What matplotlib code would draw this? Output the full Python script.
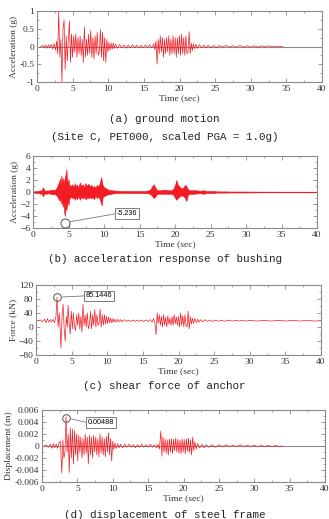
import numpy as np
import matplotlib
matplotlib.use("Agg")
import matplotlib.pyplot as plt
from matplotlib.ticker import AutoMinorLocator, MultipleLocator

# ---------------- data ----------------
# (a) ground motion: (time s, acceleration g)
ground_a = [
    (0.5, 0.0), (0.8, 0.03), (1.0, -0.03), (1.2, 0.04), (1.4, -0.05), (1.6, 0.05), (1.8, -0.04),
    (2.0, 0.06), (2.2, -0.07), (2.4, 0.08), (2.6, -0.1), (2.75, 0.15), (2.9, -0.2), (3.05, 1.0),
    (3.2, -0.3), (3.35, 0.2), (3.5, -1.0), (3.65, 0.5), (3.8, 0.75), (3.95, -0.65), (4.1, 0.3),
    (4.25, -0.4), (4.4, 0.2), (4.55, 0.72), (4.7, -0.45), (4.85, 0.35), (5.0, -0.3), (5.15, 0.3),
    (5.3, -0.15), (5.45, 0.35), (5.6, -0.3), (5.75, 0.25), (5.9, -0.2), (6.05, 0.3), (6.2, -0.25),
    (6.35, 0.2), (6.5, -0.45), (6.65, 0.55), (6.8, -0.3), (6.95, 0.2), (7.1, -0.25), (7.25, 0.35),
    (7.4, -0.2), (7.55, 0.45), (7.7, -0.3), (7.85, 0.25), (8.0, -0.35), (8.15, 0.3), (8.3, -0.2),
    (8.45, 0.4), (8.6, -0.25), (8.75, -0.15), (8.9, 0.48), (9.05, -0.3), (9.2, 0.4), (9.35, -0.4),
    (9.5, 0.25), (9.65, -0.45), (9.8, 0.2), (9.95, -0.15), (10.1, 0.12), (10.25, -0.1),
    (10.4, 0.1), (10.55, -0.08), (10.7, 0.1), (10.85, -0.06), (11.0, 0.07), (11.3, -0.05),
    (11.6, 0.06), (11.9, -0.04), (12.2, 0.05), (12.5, -0.05), (12.8, 0.04), (13.1, -0.04),
    (13.4, 0.05), (13.7, -0.03), (14.0, 0.04), (14.3, -0.04), (14.6, 0.03), (14.9, -0.03),
    (15.2, 0.04), (15.5, -0.03), (15.8, 0.05), (16.1, -0.04), (16.4, 0.08), (16.55, -0.1),
    (16.7, 0.15), (16.85, -0.5), (17.0, 0.2), (17.15, -0.2), (17.3, 0.3), (17.45, -0.15),
    (17.6, 0.25), (17.75, -0.3), (17.9, 0.2), (18.05, -0.2), (18.2, 0.25), (18.35, -0.15),
    (18.5, 0.3), (18.65, -0.25), (18.8, 0.2), (18.95, -0.2), (19.1, 0.3), (19.25, -0.2),
    (19.4, 0.25), (19.55, -0.3), (19.7, 0.25), (19.85, -0.2), (20.0, 0.3), (20.15, -0.25),
    (20.3, 0.35), (20.45, -0.2), (20.6, 0.25), (20.75, -0.25), (20.9, 0.3), (21.05, -0.2),
    (21.2, -0.15), (21.35, 0.42), (21.5, -0.2), (21.65, 0.1), (21.8, -0.12), (21.95, 0.08),
    (22.1, -0.06), (22.3, 0.06), (22.5, -0.05), (22.8, 0.05), (23.1, -0.04), (23.4, 0.04),
    (23.7, -0.04), (24.0, 0.03), (24.4, -0.03), (24.8, 0.03), (25.2, -0.03), (25.6, 0.03),
    (26.0, -0.02), (26.5, 0.03), (27.0, -0.02), (27.5, 0.02), (28.0, -0.02), (28.5, 0.03),
    (29.0, -0.02), (29.5, 0.02), (30.0, -0.02), (30.5, 0.02), (31.0, -0.02), (31.5, 0.02),
    (32.0, -0.01), (32.5, 0.02), (33.0, -0.01), (33.5, 0.01), (34.0, -0.01), (34.5, 0.0),
]

# (b) acceleration response of bushing: (time s, upper envelope g, lower envelope g)
bushing_b = [
    (0.0, 0.05, -0.05), (0.5, 0.2, -0.2), (0.8, 0.15, -0.15), (1.0, 0.3, -0.3), (1.2, 0.25, -0.25),
    (1.4, 0.8, -0.7), (1.6, 0.3, -0.3), (1.8, 0.2, -0.25), (2.0, 0.3, -0.3), (2.2, 0.25, -0.2),
    (2.5, 0.35, -0.35), (2.8, 0.4, -0.4), (3.0, 0.3, -0.3), (3.2, 0.5, -0.5), (3.4, 0.9, -0.7),
    (3.6, 1.5, -1.2), (3.8, 2.2, -1.5), (3.9, 1.2, -1.0), (4.0, 2.8, -2.0), (4.1, 1.8, -1.5),
    (4.2, 2.3, -2.5), (4.3, 1.5, -1.8), (4.4, 2.0, -3.5), (4.5, 2.5, -4.0), (4.6, 3.0, -2.5),
    (4.7, 3.8, -3.0), (4.8, 2.0, -2.2), (4.9, 1.5, -1.5), (5.0, 2.2, -2.2), (5.1, 1.2, -1.2),
    (5.3, 1.0, -0.8), (5.5, 1.3, -1.0), (5.7, 0.9, -0.9), (5.9, 1.5, -1.3), (6.0, 1.0, -0.8),
    (6.2, 1.2, -1.2), (6.4, 0.8, -0.7), (6.6, 1.6, -1.3), (6.8, 1.0, -0.8), (7.0, 1.3, -1.1),
    (7.2, 0.8, -0.8), (7.4, 1.5, -1.2), (7.6, 1.0, -1.0), (7.8, 1.4, -1.0), (8.0, 0.9, -0.9),
    (8.2, 1.2, -1.0), (8.4, 0.8, -0.9), (8.6, 1.0, -1.2), (8.8, 0.7, -0.6), (9.0, 1.2, -1.0),
    (9.2, 0.9, -0.8), (9.4, 1.5, -1.2), (9.6, 2.5, -2.0), (9.7, 1.8, -2.2), (9.8, 1.2, -0.9),
    (10.0, 0.8, -0.7), (10.3, 0.6, -0.5), (10.6, 0.4, -0.4), (11.0, 0.3, -0.3), (11.5, 0.25, -0.2),
    (12.0, 0.2, -0.2), (12.5, 0.15, -0.15), (13.0, 0.2, -0.15), (13.5, 0.15, -0.15),
    (14.0, 0.2, -0.2), (14.5, 0.15, -0.15), (15.0, 0.2, -0.15), (15.5, 0.15, -0.2),
    (16.0, 0.2, -0.2), (16.5, 0.4, -0.3), (16.8, 1.0, -0.7), (17.0, 1.3, -1.0), (17.2, 0.8, -0.8),
    (17.5, 0.3, -0.3), (18.0, 0.3, -0.3), (18.5, 0.4, -0.3), (19.0, 0.3, -0.3), (19.5, 0.3, -0.3),
    (19.8, 0.6, -0.5), (20.0, 1.2, -1.0), (20.2, 2.0, -1.3), (20.4, 1.2, -1.0), (20.6, 1.0, -0.8),
    (20.8, 0.7, -0.6), (21.0, 0.6, -0.6), (21.2, 0.8, -0.7), (21.4, 1.2, -1.0), (21.6, 1.0, -1.5),
    (21.8, 0.5, -0.5), (22.0, 0.3, -0.3), (22.5, 0.3, -0.3), (23.0, 0.3, -0.25), (23.5, 0.2, -0.2),
    (24.0, 0.3, -0.3), (24.5, 0.15, -0.15), (25.0, 0.2, -0.2), (26.0, 0.1, -0.1),
    (27.0, 0.1, -0.1), (28.0, 0.08, -0.08), (30.0, 0.08, -0.08), (32.0, 0.06, -0.06),
    (35.0, 0.05, -0.05), (40.0, 0.05, -0.05),
]
peak_b = (4.5, -5.236)

# (c) shear force of anchor: (time s, force kN)
anchor_c = [
    (0.0, 18), (0.3, 18), (0.6, 20), (0.9, 15), (1.2, 22), (1.4, 12), (1.6, 24), (1.8, 14),
    (2.0, 21), (2.2, 15), (2.4, 22), (2.6, 12), (2.8, 30), (2.95, 85.1446), (3.1, 0), (3.25, 40),
    (3.4, -10), (3.5, -60), (3.65, 30), (3.8, 65), (3.95, -5), (4.1, -40), (4.25, 30), (4.4, 0),
    (4.5, 62), (4.65, 10), (4.8, -20), (4.95, 45), (5.1, -5), (5.25, 40), (5.4, 0), (5.55, -10),
    (5.7, 35), (5.85, 5), (6.0, 40), (6.15, -5), (6.3, 30), (6.45, -15), (6.6, 65), (6.75, 5),
    (6.9, 35), (7.05, 0), (7.2, 40), (7.35, -5), (7.5, 5), (7.65, 45), (7.8, -5), (7.95, 35),
    (8.1, 5), (8.25, 50), (8.4, 0), (8.55, 35), (8.7, 5), (8.85, 10), (9.0, 52), (9.15, 0),
    (9.3, 35), (9.45, 5), (9.6, 35), (9.75, 8), (9.9, 30), (10.05, 10), (10.2, 28), (10.35, 12),
    (10.5, 25), (10.65, 12), (10.8, 24), (10.95, 14), (11.1, 22), (11.3, 14), (11.5, 22),
    (11.7, 15), (11.9, 21), (12.1, 15), (12.4, 21), (12.7, 16), (13.0, 20), (13.3, 16), (13.6, 20),
    (13.9, 16), (14.2, 20), (14.5, 16), (14.8, 20), (15.1, 16), (15.4, 20), (15.7, 16), (16.0, 21),
    (16.3, 14), (16.5, 24), (16.7, 10), (16.85, -22), (17.0, 40), (17.15, 10), (17.3, 35),
    (17.45, 5), (17.6, 30), (17.75, 0), (17.9, 35), (18.05, 5), (18.2, 28), (18.35, 0), (18.5, 32),
    (18.65, 8), (18.8, 25), (18.95, 5), (19.1, 30), (19.25, 5), (19.4, 35), (19.55, 10),
    (19.7, 28), (19.85, 5), (20.0, 30), (20.15, 0), (20.3, 40), (20.45, 5), (20.6, 32), (20.75, 0),
    (20.9, 35), (21.05, 5), (21.2, 0), (21.35, 45), (21.5, -5), (21.65, 30), (21.8, 8), (21.95, 25),
    (22.1, 10), (22.3, 24), (22.5, 13), (22.7, 22), (22.9, 14), (23.1, 21), (23.4, 15), (23.7, 21),
    (24.0, 16), (24.4, 20), (24.8, 16), (25.2, 19.5), (25.6, 16.5), (26.0, 19.5), (26.5, 16.5),
    (27.0, 19.5), (27.5, 17), (28.0, 19), (28.5, 17), (29.0, 19), (29.5, 17), (30.0, 19),
    (31.0, 17), (32.0, 19), (33.0, 17), (34.0, 19), (35.0, 17), (36.0, 19), (37.0, 17), (38.0, 19),
    (39.0, 17), (40.0, 18),
]
peak_c = (2.95, 85.1446)

# (d) displacement of steel frame: (time s, displacement m)
frame_d = [
    (0.3, 0.0), (0.6, 0.0002), (0.9, -0.0002), (1.2, 0.0003), (1.4, -0.0004), (1.6, 0.0004),
    (1.8, -0.0003), (2.0, 0.0003), (2.2, -0.0004), (2.4, 0.0005), (2.6, 0.0008), (2.8, -0.0045),
    (2.95, 0.001), (3.1, -0.002), (3.25, -0.001), (3.4, 0.00488), (3.55, -0.001), (3.7, 0.002),
    (3.85, -0.0044), (4.0, 0.003), (4.15, -0.002), (4.3, 0.0028), (4.45, -0.003), (4.6, 0.0026),
    (4.75, -0.0015), (4.9, 0.002), (5.05, -0.0025), (5.2, 0.0018), (5.35, -0.001), (5.5, 0.0015),
    (5.65, -0.002), (5.8, 0.0012), (5.95, -0.0015), (6.1, 0.002), (6.25, -0.0012), (6.4, 0.0015),
    (6.55, -0.003), (6.7, 0.0018), (6.85, -0.0015), (7.0, 0.0015), (7.15, -0.002), (7.3, 0.0018),
    (7.45, -0.001), (7.6, 0.0015), (7.75, -0.0015), (7.9, 0.0012), (8.05, -0.0018), (8.2, 0.002),
    (8.35, -0.0012), (8.5, 0.0015), (8.65, -0.0015), (8.8, 0.0012), (8.95, -0.0018), (9.1, 0.0016),
    (9.25, -0.001), (9.4, 0.0022), (9.55, -0.0015), (9.7, 0.0012), (9.85, -0.0025), (10.0, 0.0008),
    (10.15, -0.0006), (10.3, 0.0005), (10.5, -0.0004), (10.7, 0.0004), (10.9, -0.0003),
    (11.1, 0.0003), (11.4, -0.0003), (11.7, 0.0003), (12.0, -0.0002), (12.3, 0.0003),
    (12.6, -0.0002), (12.9, 0.0002), (13.2, -0.0003), (13.5, 0.0002), (13.8, -0.0002),
    (14.1, 0.0003), (14.4, -0.0002), (14.7, 0.0002), (15.0, -0.0002), (15.3, 0.0003),
    (15.6, -0.0002), (15.9, 0.0002), (16.2, -0.0003), (16.4, 0.0003), (16.6, -0.0005),
    (16.8, 0.0025), (16.95, -0.0017), (17.1, 0.0015), (17.25, -0.001), (17.4, 0.0012),
    (17.55, -0.0012), (17.7, 0.001), (17.85, -0.0015), (18.0, 0.0012), (18.15, -0.001),
    (18.3, 0.0012), (18.45, -0.0013), (18.6, 0.0011), (18.75, -0.0008), (18.9, 0.0013),
    (19.05, -0.001), (19.2, 0.0011), (19.35, -0.0012), (19.5, 0.001), (19.65, -0.0013),
    (19.8, 0.0012), (19.95, -0.001), (20.1, 0.0011), (20.25, -0.0013), (20.4, 0.0012),
    (20.55, -0.0009), (20.7, 0.0013), (20.85, -0.0011), (21.0, 0.001), (21.15, -0.0015),
    (21.3, 0.0015), (21.45, -0.0008), (21.6, 0.0007), (21.8, -0.0005), (22.0, 0.0004),
    (22.3, -0.0003), (22.6, 0.0003), (22.9, -0.0003), (23.2, 0.0002), (23.6, -0.0002),
    (24.0, 0.0002), (24.5, -0.0002), (25.0, 0.0002), (25.5, -0.0001), (26.0, 0.0002),
    (26.5, -0.0001), (27.0, 0.0001), (27.5, -0.0001), (28.0, 0.0002), (28.5, -0.0001),
    (29.0, 0.0001), (29.5, -0.0001), (30.0, 0.0001), (30.5, -0.0001), (31.0, 0.0001),
    (31.5, -0.0001), (32.0, 0.0001), (32.5, -0.0001), (33.0, 0.0001), (33.5, -0.0001), (34.0, 0.0),
]
peak_d = (3.4, 0.00488)

# ---------------- styling ----------------
RED = "#f21c24"
GREY = "#8a8a8a"
plt.rcParams["font.family"] = "Liberation Serif"

fig = plt.figure(figsize=(3.29, 5.19), dpi=100)


def style(ax, ylim, ystep, ylabel, yfmt=None):
    ax.set_xlim(0, 40)
    ax.set_ylim(*ylim)
    ax.xaxis.set_major_locator(MultipleLocator(5))
    ax.yaxis.set_major_locator(MultipleLocator(ystep))
    ax.xaxis.set_minor_locator(AutoMinorLocator(2))
    ax.yaxis.set_minor_locator(AutoMinorLocator(2))
    ax.tick_params(which="both", direction="in", top=True, right=True, color=GREY,
                   labelsize=6.8, pad=2, labelcolor="#333333")
    ax.tick_params(which="major", length=3, width=0.6)
    ax.tick_params(which="minor", length=1.6, width=0.5)
    for s in ax.spines.values():
        s.set_color(GREY)
        s.set_linewidth(0.8)
    ax.set_ylabel(ylabel, fontsize=6.8, labelpad=1, color="#333333")
    ax.set_xlabel("Time (sec)", fontsize=6.8, labelpad=1, color="#333333")
    if yfmt:
        ax.yaxis.set_major_formatter(yfmt)


def peak_mark(ax, xy, text, xytext, ms=6):
    ax.plot([xy[0]], [xy[1]], marker="o", ms=ms, mfc="none", mec="#555555", mew=0.7, zorder=5)
    ax.annotate(text, xy=xy, xytext=xytext, ha="left", va="center",
                fontsize=5.2, family="Liberation Sans",
                bbox=dict(boxstyle="square,pad=0.25", fc="white", ec="#666666", lw=0.6),
                arrowprops=dict(arrowstyle="-", color="#777777", lw=0.6,
                                shrinkA=0, shrinkB=4, relpos=(0, 0.5)),
                zorder=6)


# (a)
t, v = zip(*ground_a)
ax = fig.add_axes([37 / 329, 1 - 82 / 519, 285 / 329, 71 / 519])
ax.axhline(0, color=GREY, lw=0.8, zorder=1)
ax.plot(t, v, color=RED, lw=0.5, zorder=2)
style(ax, (-1, 1), 0.5, "Acceleration (g)", plt.FuncFormatter(lambda x, p: f"{x:g}"))

# (b)
t, up, lo = zip(*bushing_b)
ax = fig.add_axes([33 / 329, 1 - 228 / 519, 284 / 329, 72 / 519])
ax.axhline(0, color=GREY, lw=0.8, zorder=1)
ax.fill_between(t, lo, up, color=RED, lw=0.4, zorder=2)
style(ax, (-6, 6), 2, "Acceleration (g)")
peak_mark(ax, (peak_b[0], -5.1), f"{peak_b[1]:.3f}", (11.8, -3.6), ms=6.5)

# (c)
t, v = zip(*anchor_c)
ax = fig.add_axes([36 / 329, 1 - 355 / 519, 285 / 329, 70 / 519])
ax.plot(t, v, color=RED, lw=0.5, zorder=2)
style(ax, (-80, 120), 40, "Force (kN)")
peak_mark(ax, peak_c, f"{peak_c[1]:.4f}", (7.0, 89), ms=5.5)

# (d)
t, v = zip(*frame_d)
ax = fig.add_axes([42 / 329, 1 - 482 / 519, 283 / 329, 72 / 519])
ax.axhline(0, color=GREY, lw=0.8, zorder=1)
ax.plot(t, v, color=RED, lw=0.5, zorder=2)
style(ax, (-0.006, 0.006), 0.002, "Displacement (m)",
      plt.FuncFormatter(lambda x, p: f"{x:.3f}" if abs(x) > 1e-12 else "0"))
peak_mark(ax, (peak_d[0], 0.0047), f"{peak_d[1]:.5f}", (6.45, 0.0039), ms=5.5)

# captions
CAP = dict(ha="center", va="center", fontsize=7.8, family="Liberation Mono", color="#222222")
fig.text(0.5, 1 - 119 / 519, "(a) ground motion", **CAP)
fig.text(0.5, 1 - 137 / 519, "(Site C, PET000, scaled PGA = 1.0g)", **CAP)
fig.text(0.5, 1 - 259 / 519, "(b) acceleration response of bushing", **CAP)
fig.text(0.5, 1 - 386 / 519, "(c) shear force of anchor", **CAP)
fig.text(0.5, 1 - 515 / 519, "(d) displacement of steel frame", **CAP)

fig.savefig("out.png", dpi=100)
